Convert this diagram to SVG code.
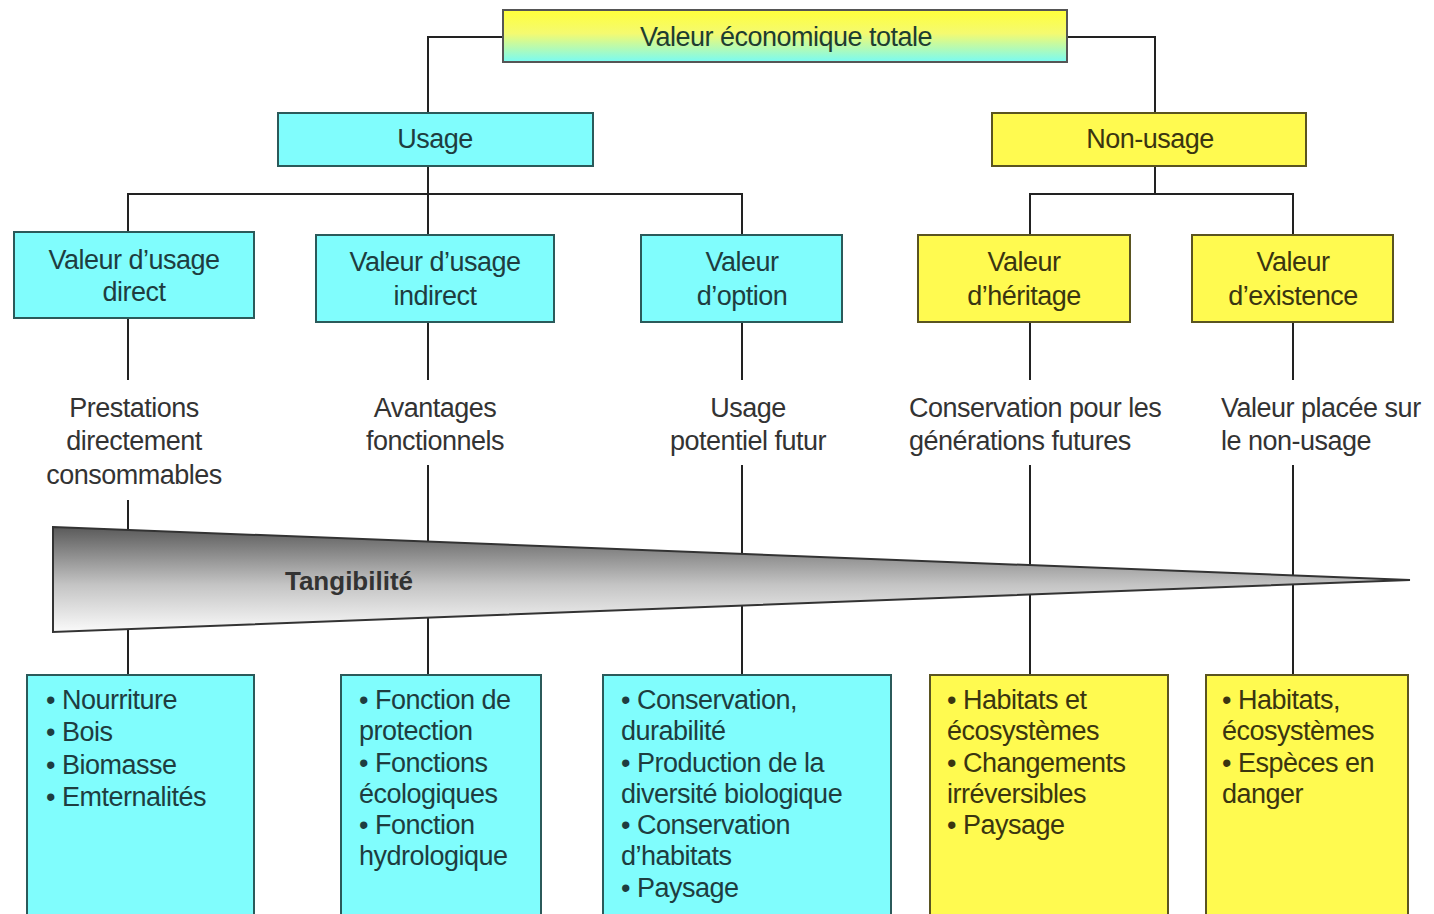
<svg xmlns="http://www.w3.org/2000/svg" width="1434" height="914" viewBox="0 0 1434 914">
<defs>
<linearGradient id="gTop" x1="0" y1="0" x2="0" y2="1">
<stop offset="0" stop-color="#ffff3a"/><stop offset="0.45" stop-color="#f4fa70"/><stop offset="1" stop-color="#78fbf4"/>
</linearGradient>
<linearGradient id="gWedge" x1="0" y1="0" x2="0" y2="1">
<stop offset="0" stop-color="#5a5a5a"/><stop offset="0.55" stop-color="#c4c4c4"/><stop offset="1" stop-color="#fafafa"/>
</linearGradient>
<style>
text{font-family:"Liberation Sans",Arial,sans-serif;font-size:27px;letter-spacing:-0.5px;}
.c{text-anchor:middle;}
.cy rect{fill:#80fdfd;stroke:#2b5a5a;stroke-width:2;}
.ye rect{fill:#fffa50;stroke:#5a5420;stroke-width:2;}
.cy text{fill:#1e3d40;}
.ye text{fill:#3a3510;}
.lbl{fill:#333;}
.conn{fill:none;stroke:#222;stroke-width:2;}
</style>
</defs>
<rect width="1434" height="914" fill="#fff"/>
<g id="connectors" class="conn">
<polyline points="503,37 428,37 428,113"/>
<polyline points="1067,37 1155,37 1155,113"/>
<line x1="428" y1="166" x2="428" y2="194"/>
<polyline points="128,232 128,194 742,194 742,235"/>
<line x1="428" y1="194" x2="428" y2="235"/>
<line x1="1155" y1="166" x2="1155" y2="194"/>
<polyline points="1030,235 1030,194 1293,194 1293,235"/>
<line x1="128" y1="318" x2="128" y2="380"/>
<line x1="428" y1="322" x2="428" y2="380"/>
<line x1="742" y1="322" x2="742" y2="380"/>
<line x1="1030" y1="322" x2="1030" y2="380"/>
<line x1="1293" y1="322" x2="1293" y2="380"/>
<line x1="128" y1="500" x2="128" y2="675"/>
<line x1="428" y1="465" x2="428" y2="675"/>
<line x1="742" y1="465" x2="742" y2="675"/>
<line x1="1030" y1="465" x2="1030" y2="675"/>
<line x1="1293" y1="465" x2="1293" y2="675"/>
</g>
<g id="wedge">
<polygon points="53,527 1410,580 53,632" fill="url(#gWedge)" stroke="#333" stroke-width="2"/>
<text x="349" y="590" class="c" style="fill:#333;font-weight:bold;font-size:26px;letter-spacing:0;">Tangibilité</text>
</g>
<g id="total">
<rect x="503" y="10" width="564" height="52" fill="url(#gTop)" stroke="#555" stroke-width="2"/>
<text x="786" y="46" class="c" fill="#1e3d30">Valeur économique totale</text>
</g>
<g id="usage" class="cy"><rect x="278" y="113" width="315" height="53"/><text x="435" y="148" class="c">Usage</text></g>
<g id="nonusage" class="ye"><rect x="992" y="113" width="314" height="53"/><text x="1150" y="148" class="c">Non-usage</text></g>
<g id="direct" class="cy"><rect x="14" y="232" width="240" height="86"/><text x="134" y="269" class="c">Valeur d’usage</text><text x="134" y="301" class="c">direct</text></g>
<g id="indirect" class="cy"><rect x="316" y="235" width="238" height="87"/><text x="435" y="271" class="c">Valeur d’usage</text><text x="435" y="305" class="c">indirect</text></g>
<g id="option" class="cy"><rect x="641" y="235" width="201" height="87"/><text x="742" y="271" class="c">Valeur</text><text x="742" y="305" class="c">d’option</text></g>
<g id="heritage" class="ye"><rect x="918" y="235" width="212" height="87"/><text x="1024" y="271" class="c">Valeur</text><text x="1024" y="305" class="c">d’héritage</text></g>
<g id="existence" class="ye"><rect x="1192" y="235" width="201" height="87"/><text x="1293" y="271" class="c">Valeur</text><text x="1293" y="305" class="c">d’existence</text></g>
<g id="desc-direct" class="lbl"><text x="134" y="417" class="c">Prestations</text><text x="134" y="450" class="c">directement</text><text x="134" y="484" class="c">consommables</text></g>
<g id="desc-indirect" class="lbl"><text x="435" y="417" class="c">Avantages</text><text x="435" y="450" class="c">fonctionnels</text></g>
<g id="desc-option" class="lbl"><text x="748" y="417" class="c">Usage</text><text x="748" y="450" class="c">potentiel futur</text></g>
<g id="desc-heritage" class="lbl"><text x="909" y="417">Conservation pour les</text><text x="909" y="450">générations futures</text></g>
<g id="desc-existence" class="lbl"><text x="1221" y="417">Valeur placée sur</text><text x="1221" y="450">le non-usage</text></g>
<g id="ex-direct" class="cy"><rect x="27" y="675" width="227" height="245"/>
<text x="46" y="709">• Nourriture</text><text x="46" y="741">• Bois</text><text x="46" y="774">• Biomasse</text><text x="46" y="806">• Emternalités</text></g>
<g id="ex-indirect" class="cy"><rect x="341" y="675" width="200" height="245"/>
<text x="359" y="709">• Fonction de</text><text x="359" y="740">protection</text><text x="359" y="772">• Fonctions</text><text x="359" y="803">écologiques</text><text x="359" y="834">• Fonction</text><text x="359" y="865">hydrologique</text></g>
<g id="ex-option" class="cy"><rect x="603" y="675" width="288" height="245"/>
<text x="621" y="709">• Conservation,</text><text x="621" y="740">durabilité</text><text x="621" y="772">• Production de la</text><text x="621" y="803">diversité biologique</text><text x="621" y="834">• Conservation</text><text x="621" y="865">d’habitats</text><text x="621" y="897">• Paysage</text></g>
<g id="ex-heritage" class="ye"><rect x="930" y="675" width="238" height="245"/>
<text x="947" y="709">• Habitats et</text><text x="947" y="740">écosystèmes</text><text x="947" y="772">• Changements</text><text x="947" y="803">irréversibles</text><text x="947" y="834">• Paysage</text></g>
<g id="ex-existence" class="ye"><rect x="1206" y="675" width="202" height="245"/>
<text x="1222" y="709">• Habitats,</text><text x="1222" y="740">écosystèmes</text><text x="1222" y="772">• Espèces en</text><text x="1222" y="803">danger</text></g>
</svg>
